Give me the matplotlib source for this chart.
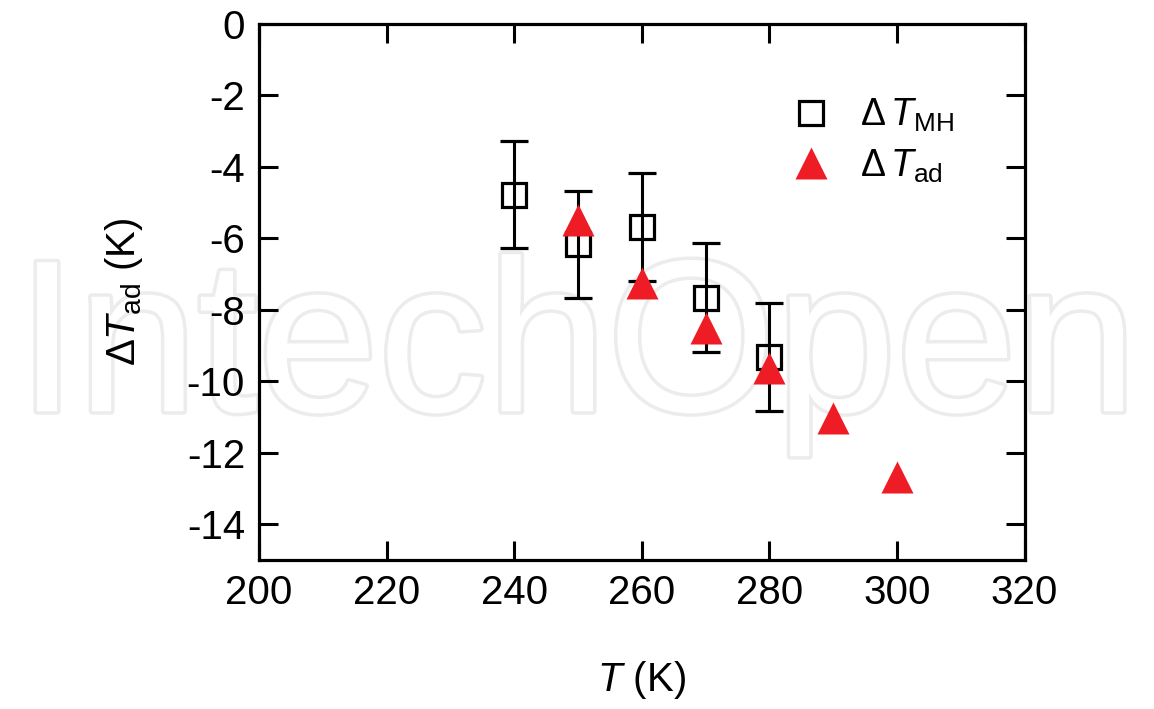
import matplotlib
matplotlib.use("Agg")
import matplotlib.pyplot as plt
import matplotlib.patheffects as pe
from matplotlib.lines import Line2D

# data
T_mh = [240, 250, 260, 270, 280]
dT_mh = [-4.78, -6.17, -5.68, -7.66, -9.32]
dT_mh_err = [1.5, 1.5, 1.5, 1.52, 1.52]

T_ad = [250, 260, 270, 280, 290, 300]
dT_ad = [-5.49, -7.24, -8.51, -9.64, -11.03, -12.68]

x_ticks = [200, 220, 240, 260, 280, 300, 320]
y_ticks = [0, -2, -4, -6, -8, -10, -12, -14]

plt.rcParams['font.family'] = ['Liberation Sans', 'DejaVu Sans']
plt.rcParams['mathtext.fontset'] = 'custom'
plt.rcParams['mathtext.rm'] = 'Liberation Sans'
plt.rcParams['mathtext.it'] = 'Liberation Sans:italic'
plt.rcParams['axes.unicode_minus'] = False

red = '#ee1c25'

fig = plt.figure(figsize=(11.54, 7.09), dpi=100)
ax = fig.add_axes([0.2244, 0.2102, 0.6635, 0.7559])
ax.set_facecolor('none')

# faint watermark behind the plot
fig.text(0.5, 0.42, 'IntechOpen', ha='center', va='baseline', fontsize=156,
         color='white', zorder=-1,
         path_effects=[pe.withStroke(linewidth=5, foreground='#ececec')])

ax.errorbar(T_mh, dT_mh, yerr=dT_mh_err, fmt='s', ms=17.5, mfc='none', mec='black',
            mew=2.3, ecolor='black', elinewidth=2.2, capsize=10, capthick=2.2,
            zorder=3)
ax.plot(T_ad, dT_ad, '^', ms=23, color=red, mec='none', zorder=4)

ax.set_xlim(200, 320)
ax.set_ylim(-15, 0)
ax.set_xticks(x_ticks)
ax.set_yticks(y_ticks)
ax.tick_params(direction='in', length=14, width=2.2, labelsize=29, pad=10,
               top=True, right=True)
for s in ax.spines.values():
    s.set_linewidth(2.3)

ax.set_xlabel(r'$\mathit{T}$ (K)', fontsize=29, labelpad=34)
ax.set_ylabel(r'$\Delta\mathit{T}_{\rm ad}$ (K)', fontsize=29, labelpad=30)

handles = [
    Line2D([], [], ls='none', marker='s', ms=17.5, mfc='none', mec='black', mew=2.3),
    Line2D([], [], ls='none', marker='^', ms=23, color=red, mec='none'),
]
labels = [r'$\Delta\,\mathit{T}_{\rm MH}$', r'$\Delta\,\mathit{T}_{\rm ad}$']
ax.legend(handles, labels, loc='upper left', bbox_to_anchor=(0.672, 0.899),
          frameon=False, fontsize=27, handletextpad=0.8, labelspacing=0.35,
          handlelength=1.0, borderpad=0)

fig.savefig('out.png', dpi=100)
